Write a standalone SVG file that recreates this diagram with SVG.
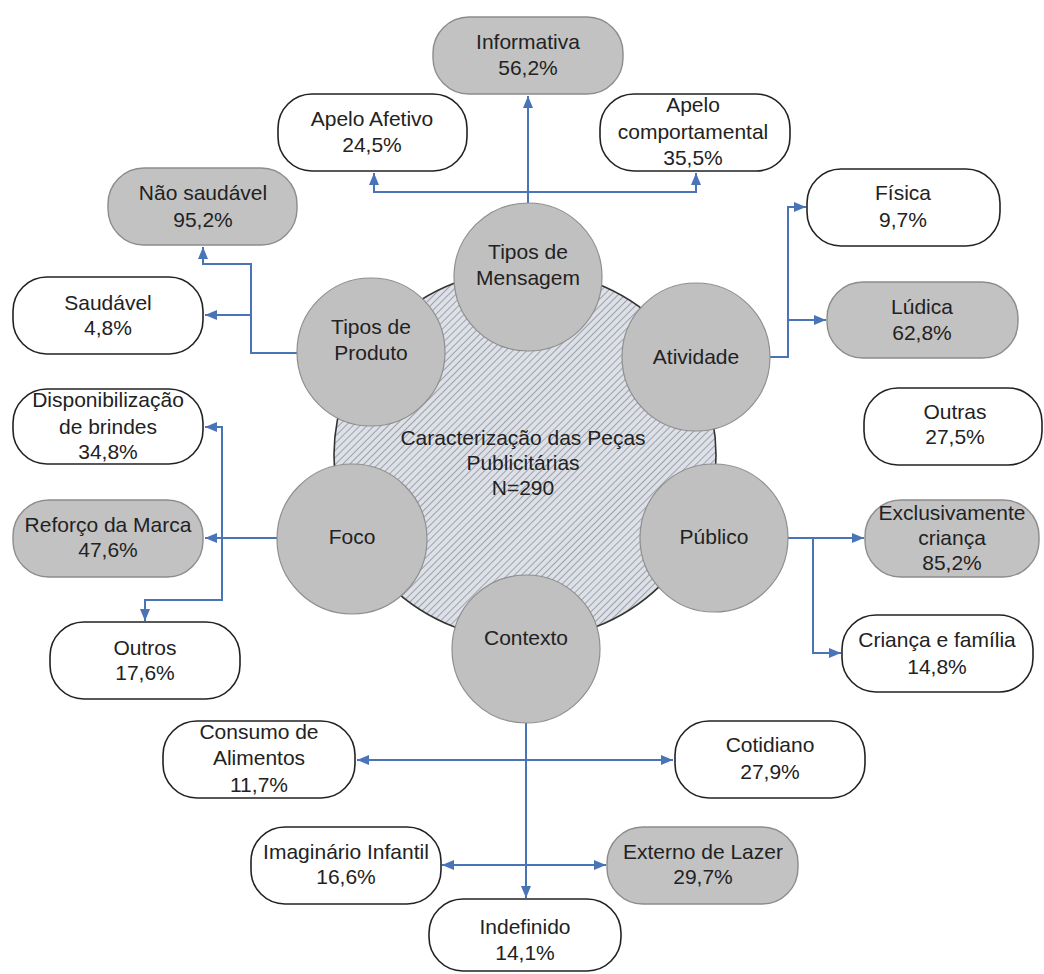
<svg xmlns="http://www.w3.org/2000/svg" width="1044" height="974" viewBox="0 0 1044 974">
  <defs>
    <pattern id="hatch" width="5" height="5" patternUnits="userSpaceOnUse" patternTransform="rotate(45)">
      <rect width="5" height="5" fill="#dde0e6"/>
      <line x1="0" y1="0" x2="0" y2="5" stroke="#9ca1ac" stroke-width="2"/>
    </pattern>
    <marker id="arrow" viewBox="0 0 12 10" refX="12" refY="5" markerWidth="12" markerHeight="10" markerUnits="userSpaceOnUse" orient="auto-start-reverse">
      <path d="M0,0 L12,5 L0,10 z" fill="#4a74b8"/>
    </marker>
    <style>
      .txt { font-family: "Liberation Sans", Arial, sans-serif; font-size: 21px; fill: #222; text-anchor: middle; }
      .box-w { fill: #ffffff; stroke: #222; stroke-width: 1.6; }
      .box-g { fill: #c2c2c2; stroke: #8c8c8c; stroke-width: 1.4; }
      .sat { fill: #c0c0c0; stroke: #8f8f8f; stroke-width: 1.2; }
      .hub { fill: url(#hatch); stroke: #333; stroke-width: 1.6; }
      .link { fill: none; stroke: #4a74b8; stroke-width: 2; }
      .arr { marker-end: url(#arrow); }
      .dbl { marker-start: url(#arrow); marker-end: url(#arrow); }
    </style>
  </defs>

  <rect width="1044" height="974" fill="#ffffff"/>

  <!-- central hub -->
  <g id="hub">
    <ellipse class="hub" cx="525" cy="455" rx="191" ry="185"/>
    <text class="txt" x="523" y="445">Caracterização das Peças</text>
    <text class="txt" x="523" y="470">Publicitárias</text>
    <text class="txt" x="523" y="495">N=290</text>
  </g>

  <!-- connectors -->
  <g id="connectors">
    <path class="link arr" d="M528,203 L528,96"/>
    <path class="link arr" d="M528,192 L374,192 L374,173"/>
    <path class="link arr" d="M528,192 L696,192 L696,173"/>

    <path class="link arr" d="M297,353 L251,353 L251,264 L203,264 L203,247"/>
    <path class="link arr" d="M251,315 L205,315"/>

    <path class="link arr" d="M277,538 L205,538"/>
    <path class="link arr" d="M222,538 L222,427 L205,427"/>
    <path class="link arr" d="M222,538 L222,600 L145,600 L145,621"/>

    <path class="link arr" d="M770,357 L788,357 L788,207 L806,207"/>
    <path class="link arr" d="M788,320 L826,320"/>

    <path class="link arr" d="M788,538 L864,538"/>
    <path class="link arr" d="M813,538 L813,653 L841,653"/>

    <path class="link arr" d="M526,723 L526,898"/>
    <path class="link dbl" d="M357,760 L673,760"/>
    <path class="link dbl" d="M442,865 L606,865"/>
  </g>

  <!-- category circles -->
  <g id="tipos-mensagem">
    <circle class="sat" cx="528" cy="277" r="74"/>
    <text class="txt" x="528" y="259">Tipos de</text>
    <text class="txt" x="528" y="285">Mensagem</text>
  </g>
  <g id="tipos-produto">
    <circle class="sat" cx="371" cy="352" r="74"/>
    <text class="txt" x="371" y="334">Tipos de</text>
    <text class="txt" x="371" y="360">Produto</text>
  </g>
  <g id="atividade">
    <circle class="sat" cx="696" cy="357" r="74"/>
    <text class="txt" x="696" y="364">Atividade</text>
  </g>
  <g id="foco">
    <circle class="sat" cx="352" cy="539" r="75"/>
    <text class="txt" x="352" y="544">Foco</text>
  </g>
  <g id="publico">
    <circle class="sat" cx="714" cy="538" r="74"/>
    <text class="txt" x="714" y="544">Público</text>
  </g>
  <g id="contexto">
    <circle class="sat" cx="526" cy="649" r="74"/>
    <text class="txt" x="526" y="645">Contexto</text>
  </g>

  <!-- Tipos de Mensagem outcomes -->
  <g id="informativa">
    <rect class="box-g" x="433" y="17" width="190" height="77" rx="36"/>
    <text class="txt" x="528" y="49">Informativa</text>
    <text class="txt" x="528" y="75">56,2%</text>
  </g>
  <g id="apelo-afetivo">
    <rect class="box-w" x="278" y="94" width="189" height="77" rx="34"/>
    <text class="txt" x="372" y="126">Apelo Afetivo</text>
    <text class="txt" x="372" y="152">24,5%</text>
  </g>
  <g id="apelo-comportamental">
    <rect class="box-w" x="600" y="94" width="190" height="77" rx="34"/>
    <text class="txt" x="693" y="112">Apelo</text>
    <text class="txt" x="693" y="139">comportamental</text>
    <text class="txt" x="693" y="165">35,5%</text>
  </g>

  <!-- Tipos de Produto outcomes -->
  <g id="nao-saudavel">
    <rect class="box-g" x="108" y="168" width="189" height="77" rx="36"/>
    <text class="txt" x="203" y="200">Não saudável</text>
    <text class="txt" x="203" y="227">95,2%</text>
  </g>
  <g id="saudavel">
    <rect class="box-w" x="13" y="277" width="190" height="77" rx="34"/>
    <text class="txt" x="108" y="310">Saudável</text>
    <text class="txt" x="108" y="335">4,8%</text>
  </g>

  <!-- Foco outcomes -->
  <g id="disponibilizacao">
    <rect class="box-w" x="13" y="389" width="190" height="75" rx="34"/>
    <text class="txt" x="108" y="407">Disponibilização</text>
    <text class="txt" x="108" y="434">de brindes</text>
    <text class="txt" x="108" y="459">34,8%</text>
  </g>
  <g id="reforco-marca">
    <rect class="box-g" x="13" y="500" width="190" height="77" rx="36"/>
    <text class="txt" x="108" y="532">Reforço da Marca</text>
    <text class="txt" x="108" y="557">47,6%</text>
  </g>
  <g id="outros">
    <rect class="box-w" x="50" y="622" width="190" height="77" rx="34"/>
    <text class="txt" x="145" y="655">Outros</text>
    <text class="txt" x="145" y="680">17,6%</text>
  </g>

  <!-- Atividade outcomes -->
  <g id="fisica">
    <rect class="box-w" x="807" y="169" width="193" height="77" rx="34"/>
    <text class="txt" x="903" y="200">Física</text>
    <text class="txt" x="903" y="227">9,7%</text>
  </g>
  <g id="ludica">
    <rect class="box-g" x="827" y="282" width="191" height="76" rx="36"/>
    <text class="txt" x="922" y="314">Lúdica</text>
    <text class="txt" x="922" y="340">62,8%</text>
  </g>
  <g id="outras">
    <rect class="box-w" x="864" y="388" width="178" height="77" rx="34"/>
    <text class="txt" x="955" y="419">Outras</text>
    <text class="txt" x="955" y="444">27,5%</text>
  </g>

  <!-- Público outcomes -->
  <g id="exclusivamente-crianca">
    <rect class="box-g" x="865" y="500" width="174" height="77" rx="36"/>
    <text class="txt" x="952" y="520">Exclusivamente</text>
    <text class="txt" x="952" y="545">criança</text>
    <text class="txt" x="952" y="570">85,2%</text>
  </g>
  <g id="crianca-familia">
    <rect class="box-w" x="842" y="615" width="191" height="77" rx="34"/>
    <text class="txt" x="937" y="647">Criança e família</text>
    <text class="txt" x="937" y="674">14,8%</text>
  </g>

  <!-- Contexto outcomes -->
  <g id="consumo-alimentos">
    <rect class="box-w" x="163" y="721" width="192" height="77" rx="34"/>
    <text class="txt" x="259" y="739">Consumo de</text>
    <text class="txt" x="259" y="765">Alimentos</text>
    <text class="txt" x="259" y="792">11,7%</text>
  </g>
  <g id="cotidiano">
    <rect class="box-w" x="675" y="721" width="190" height="77" rx="34"/>
    <text class="txt" x="770" y="752">Cotidiano</text>
    <text class="txt" x="770" y="779">27,9%</text>
  </g>
  <g id="imaginario-infantil">
    <rect class="box-w" x="251" y="827" width="190" height="77" rx="34"/>
    <text class="txt" x="346" y="859">Imaginário Infantil</text>
    <text class="txt" x="346" y="884">16,6%</text>
  </g>
  <g id="externo-lazer">
    <rect class="box-g" x="607" y="827" width="191" height="77" rx="36"/>
    <text class="txt" x="703" y="859">Externo de Lazer</text>
    <text class="txt" x="703" y="884">29,7%</text>
  </g>
  <g id="indefinido">
    <rect class="box-w" x="429" y="899" width="192" height="72" rx="34"/>
    <text class="txt" x="525" y="934">Indefinido</text>
    <text class="txt" x="525" y="960">14,1%</text>
  </g>
</svg>
